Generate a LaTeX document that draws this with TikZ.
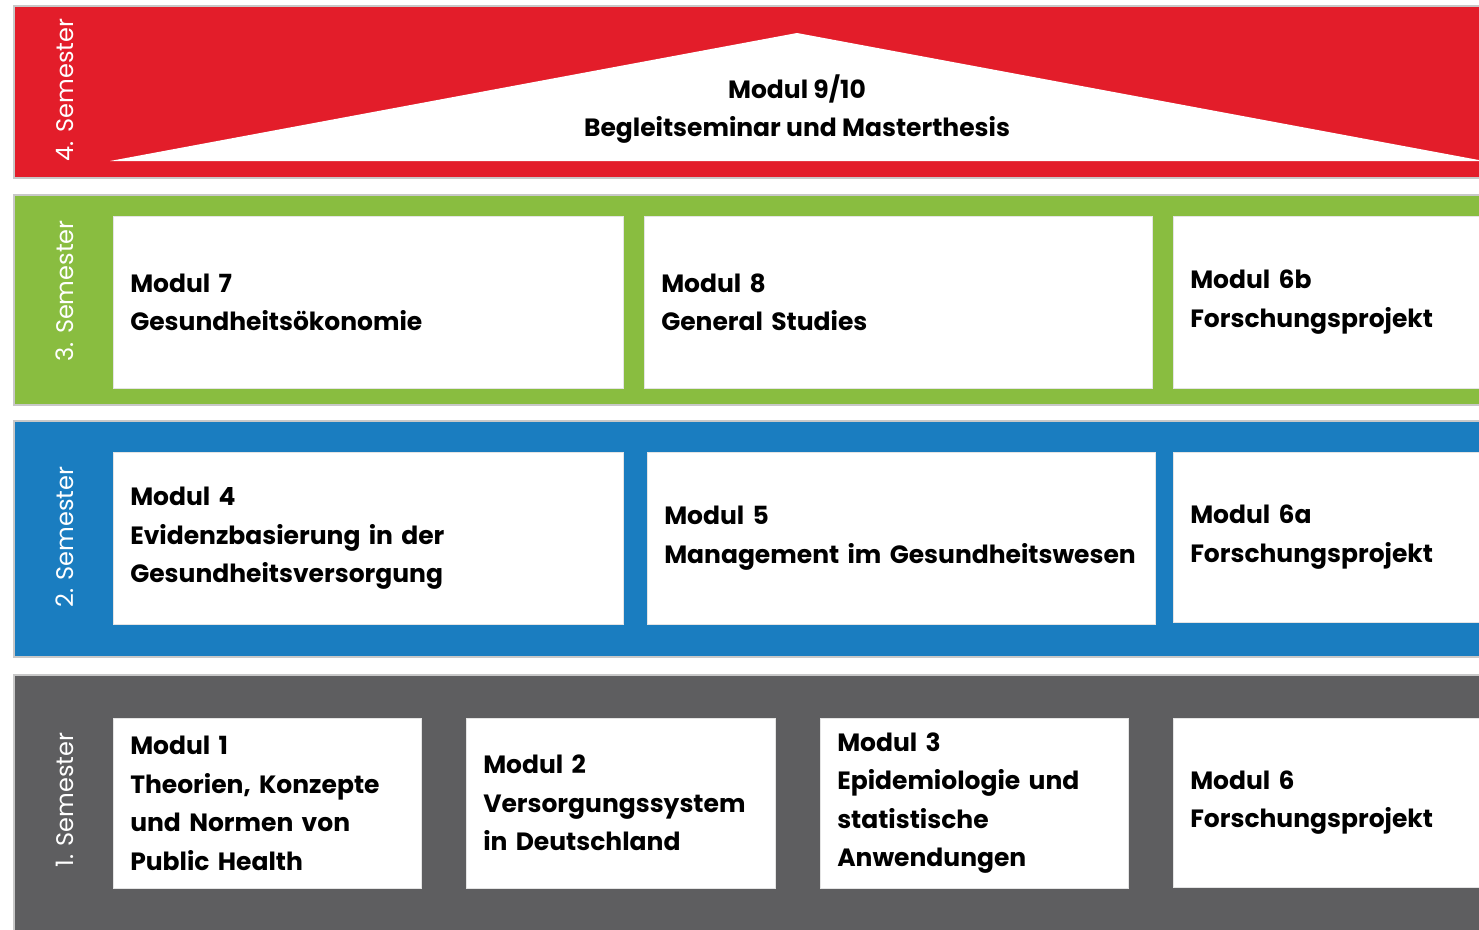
\documentclass[tikz,border=0pt]{standalone}
\usepackage{fontspec}
\setmainfont{Poppins}

\definecolor{semred}{HTML}{E31D2A}
\definecolor{semgreen}{HTML}{89BD40}
\definecolor{semblue}{HTML}{1A7DC0}
\definecolor{semgray}{HTML}{5E5E60}
\definecolor{bandline}{HTML}{C8C8C8}

\tikzset{
	band/.style = {draw = bandline, line width = 1.5pt},
	modul/.style = {fill = white, draw = bandline!50, line width = 0.5pt, anchor = north west,
		inner xsep = 17pt, inner ysep = 0pt, align = left, minimum height = 172pt,
		font = \bfseries\fontsize{25}{38.5}\selectfont},
	semlabel/.style = {rotate = 90, text = white, font = \fontsize{24}{24}\selectfont},
}

\begin{document}
\begin{tikzpicture}[x = 1pt, y = -1pt]
				%	canvas
				\fill[white] (0, 0) rectangle (1479, 929);
				\useasboundingbox (0, 0) rectangle (1479, 929);
				\clip (0, 0) rectangle (1479, 929);
				
				\def\xend{1520}
				
				%	4. Semester
				\fill[semred] (14, 6) rectangle (\xend, 178);
				\draw[band] (\xend, 6) -- (14, 6) -- (14, 178) -- (\xend, 178);
				\fill[white] (110, 161) -- (797, 33) -- (1484, 161) -- cycle;
				\node[semlabel] (sem4) at (65, 90) {4. Semester};
				\node[font = \bfseries\fontsize{25}{38.5}\selectfont, align = center] (m910) at (797, 109)
					{Modul 9/10\\Begleitseminar und Masterthesis};
				
				%	3. Semester
				\fill[semgreen] (14, 195) rectangle (\xend, 405);
				\draw[band] (\xend, 195) -- (14, 195) -- (14, 405) -- (\xend, 405);
				\node[semlabel] (sem3) at (65, 291) {3. Semester};
				\node[modul, text width = 476pt] (m7) at (113, 216) {Modul 7\\Gesundheitsökonomie};
				\node[modul, text width = 474pt] (m8) at (644, 216) {Modul 8\\General Studies};
				\node[modul, text width = 366pt] (m6b) at (1173, 216) {Modul 6b\\Forschungsprojekt};
				
				%	2. Semester
				\fill[semblue] (14, 421) rectangle (\xend, 657);
				\draw[band] (\xend, 421) -- (14, 421) -- (14, 657) -- (\xend, 657);
				\node[semlabel] (sem2) at (65, 537) {2. Semester};
				\node[modul, text width = 476pt] (m4) at (113, 452) {Modul 4\\Evidenzbasierung in der\\Gesundheitsversorgung};
				\node[modul, text width = 474pt] (m5) at (647, 452) {Modul 5\\Management im Gesundheitswesen};
				\node[modul, text width = 366pt, minimum height = 170pt] (m6a) at (1173, 452) {Modul 6a\\Forschungsprojekt};
				
				%	1. Semester
				\fill[semgray] (14, 675) rectangle (\xend, 940);
				\draw[band] (\xend, 675) -- (14, 675) -- (14, 940);
				\node[semlabel] (sem1) at (65, 800) {1. Semester};
				\node[modul, text width = 274pt, minimum height = 170pt] (m1) at (113, 718) {Modul 1\\Theorien, Konzepte\\und Normen von\\Public Health};
				\node[modul, text width = 275pt, minimum height = 170pt] (m2) at (466, 718) {Modul 2\\Versorgungssystem\\in Deutschland};
				\node[modul, text width = 274pt, minimum height = 170pt] (m3) at (820, 718) {Modul 3\\Epidemiologie und\\statistische\\Anwendungen};
				\node[modul, text width = 366pt, minimum height = 169pt] (m6) at (1173, 718) {Modul 6\\Forschungsprojekt};
\end{tikzpicture}
\end{document}
